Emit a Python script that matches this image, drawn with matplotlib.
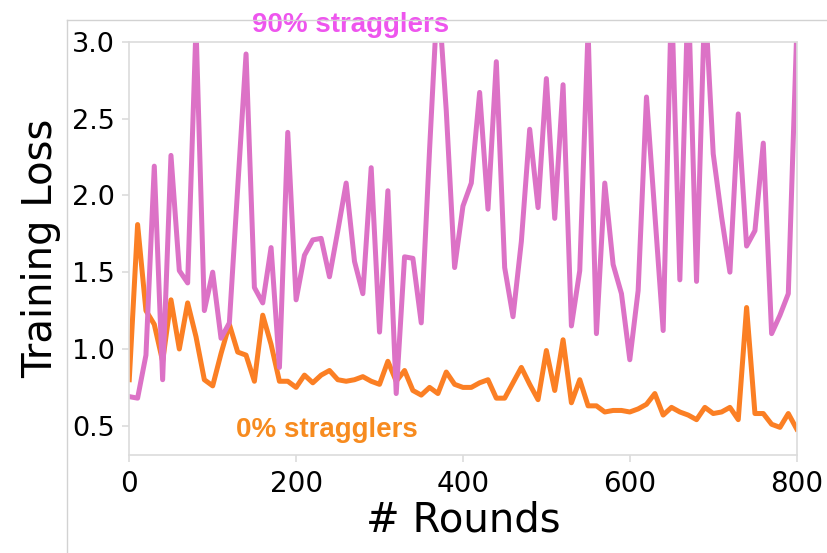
import matplotlib
matplotlib.use("Agg")
import matplotlib.pyplot as plt
from matplotlib.lines import Line2D

# training loss every 10 rounds
rounds = list(range(0, 801, 10))

loss_90 = [0.69, 0.68, 0.96, 2.19, 0.80, 2.26, 1.51, 1.43, 3.10, 1.25,
           1.50, 1.07, 1.17, 2.05, 2.92, 1.40, 1.30, 1.66, 0.88, 2.41,
           1.32, 1.61, 1.71, 1.72, 1.47, 1.77, 2.08, 1.57, 1.36, 2.18,
           1.11, 2.03, 0.71, 1.60, 1.59, 1.17, 2.30, 3.35, 2.55, 1.53,
           1.93, 2.08, 2.67, 1.91, 2.87, 1.53, 1.21, 1.70, 2.43, 1.92,
           2.76, 1.85, 2.72, 1.15, 1.51, 3.08, 1.10, 2.08, 1.55, 1.36,
           0.93, 1.38, 2.64, 1.88, 1.12, 3.30, 1.45, 3.35, 1.44, 3.30,
           2.27, 1.86, 1.50, 2.53, 1.67, 1.77, 2.34, 1.10, 1.22, 1.36,
           3.05]

loss_0 = [0.80, 1.81, 1.25, 1.16, 0.92, 1.32, 1.00, 1.30, 1.08, 0.80,
          0.76, 0.97, 1.16, 0.98, 0.96, 0.79, 1.22, 1.03, 0.79, 0.79,
          0.75, 0.83, 0.78, 0.83, 0.86, 0.80, 0.79, 0.80, 0.82, 0.79,
          0.77, 0.92, 0.79, 0.86, 0.73, 0.70, 0.75, 0.71, 0.85, 0.77,
          0.75, 0.75, 0.78, 0.80, 0.68, 0.68, 0.78, 0.88, 0.77, 0.67,
          0.99, 0.73, 1.06, 0.65, 0.80, 0.63, 0.63, 0.59, 0.60, 0.60,
          0.59, 0.61, 0.64, 0.71, 0.57, 0.62, 0.59, 0.57, 0.54, 0.62,
          0.58, 0.59, 0.62, 0.54, 1.27, 0.58, 0.58, 0.51, 0.49, 0.58,
          0.48]

xticks = [0, 200, 400, 600, 800]
yticks = [0.5, 1.0, 1.5, 2.0, 2.5, 3.0]

pink = '#dc72c6'
orange = '#fb7f24'
grey = '#dcdcdc'

fig = plt.figure(figsize=(8.27, 5.53), dpi=100)
ax = fig.add_axes([0.1563, 0.1772, 0.807, 0.7474])

# outer frame lines of the original figure
fig.add_artist(Line2D([67/827, 1], [1 - 20/553, 1 - 20/553],
                      transform=fig.transFigure, color='#d2d2d2', lw=1))
fig.add_artist(Line2D([67/827, 67/827], [0, 1 - 20/553],
                      transform=fig.transFigure, color='#d2d2d2', lw=1))

ax.plot(rounds, loss_0, color=orange, lw=3.6)
ax.plot(rounds, loss_90, color=pink, lw=3.6)

ax.set_xlim(0, 800)
ax.set_ylim(0.31, 3.0)
ax.set_xticks(xticks)
ax.set_yticks(yticks)
ax.set_yticklabels(['%.1f' % v for v in yticks], fontsize=19.5)
ax.set_xticklabels([str(v) for v in xticks], fontsize=20)

for s in ax.spines.values():
    s.set_color(grey)
    s.set_linewidth(1.2)
ax.tick_params(color=grey, length=5, width=1.2, pad=5.5, labelcolor='black')

ax.set_xlabel('# Rounds', fontsize=29, labelpad=2)
ax.set_ylabel('Training Loss', fontsize=29, labelpad=8)

ax.text(265, 3.065, '90% stragglers', color='#ee55ee', fontsize=20,
        fontweight='bold', family='Liberation Sans', ha='center',
        va='baseline', clip_on=False)
ax.text(237, 0.428, '0% stragglers', color='#f78b1f', fontsize=20,
        fontweight='bold', family='Liberation Sans', ha='center',
        va='baseline')

fig.savefig('out.png', dpi=100)
